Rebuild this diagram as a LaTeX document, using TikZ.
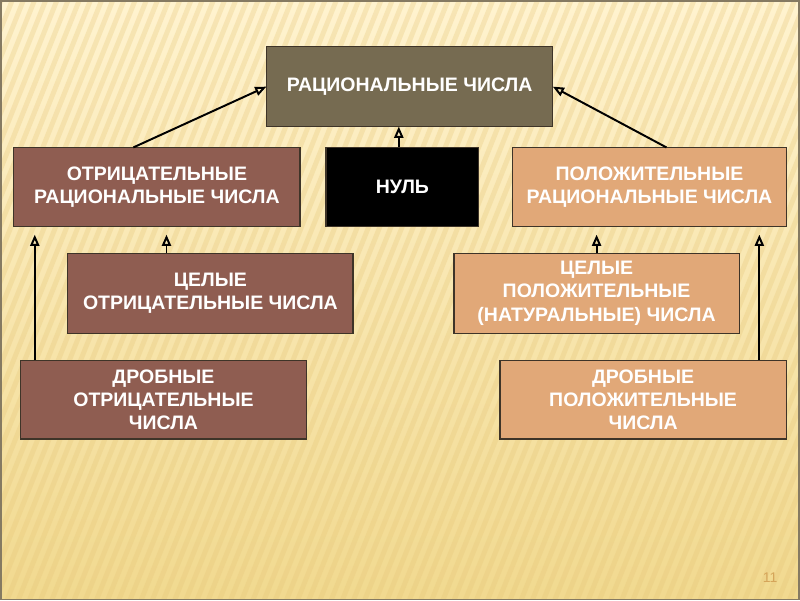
\documentclass[tikz,border=0pt]{standalone}
\usepackage{fontspec}
\setmainfont{Liberation Sans}
\usetikzlibrary{arrows.meta,fadings}
\definecolor{bgtop}{HTML}{FFF3CF}
\definecolor{bgbot}{HTML}{F1D98F}
\definecolor{stripe}{HTML}{E6C678}
\definecolor{slideedge}{HTML}{857A62}
\definecolor{ratfill}{HTML}{766B51}
\definecolor{negfill}{HTML}{8F5D51}
\definecolor{posfill}{HTML}{E1A878}
\definecolor{boxedge}{HTML}{3E3428}
\definecolor{pagenum}{HTML}{D5A55A}

\begin{document}
\begin{tikzpicture}[
    ->, >={Triangle[open,length=8pt,width=6.5pt]}, line width=1.4pt,
    box/.style={draw=boxedge, line width=0.9pt, text=white,
      font=\bfseries\fontsize{13.9}{16.5}\selectfont, align=center,
      inner sep=0pt, outer sep=0pt, minimum height=2cm},
    ratbox/.style={box, fill=ratfill},
    negbox/.style={box, fill=negfill},
    posbox/.style={box, fill=posfill},
    zerobox/.style={box, fill=black},
    lower/.style={shorten >=6pt}]
    \fill[top color=bgtop, bottom color=bgbot] (0, 0) rectangle (20, 15);
    \begin{scope}[-, line width=3.5pt, color=stripe, opacity=0.3,
        scope fading=north, fit fading=false]
      \clip (0, 0) rectangle (20, 15);
      \foreach \s in {0,0.28,...,28}
        \draw (\s, 15) -- (\s - 6, 0);
    \end{scope}
    \draw[-, slideedge, line width=1.2pt] (0, 0) rectangle (20, 15);
    \node[ratbox, minimum width=7.175cm] at (10.24, 12.85) (rat)
      {РАЦИОНАЛЬНЫЕ ЧИСЛА};
    \node[negbox, minimum width=7.175cm, minimum height=1.975cm] at (3.91, 10.34) (lneg)
      {ОТРИЦАТЕЛЬНЫЕ\\РАЦИОНАЛЬНЫЕ ЧИСЛА};
    \node[zerobox, minimum width=3.825cm, minimum height=1.975cm] at (10.06, 10.34) (zero)
      {НУЛЬ};
    \node[posbox, minimum width=6.85cm, minimum height=1.975cm] at (16.25, 10.34) (rpos)
      {ПОЛОЖИТЕЛЬНЫЕ\\РАЦИОНАЛЬНЫЕ ЧИСЛА};
    \node[negbox, minimum width=7.15cm] at (5.25, 7.675) (lint)
      {ЦЕЛЫЕ\\ОТРИЦАТЕЛЬНЫЕ ЧИСЛА};
    \node[posbox, minimum width=7.15cm] at (14.925, 7.675) (rint)
      {ЦЕЛЫЕ\\ПОЛОЖИТЕЛЬНЫЕ\\(НАТУРАЛЬНЫЕ) ЧИСЛА};
    \node[negbox, minimum width=7.15cm, minimum height=1.975cm] at (4.075, 5.01) (lfrac)
      {ДРОБНЫЕ\\ОТРИЦАТЕЛЬНЫЕ\\ЧИСЛА};
    \node[posbox, minimum width=7.175cm, minimum height=1.975cm] at (16.09, 5.01) (rfrac)
      {ДРОБНЫЕ\\ПОЛОЖИТЕЛЬНЫЕ\\ЧИСЛА};
    \node[text=pagenum, font=\fontsize{10}{12}\selectfont] at (19.275, 0.55) (num)
      {11};
    \path
      ([xshift=-0.59cm]lneg.north) edge (rat.west)
      ([xshift=0.425cm]rpos.north) edge (rat.east)
      ([xshift=-0.09cm]zero.north) edge ([xshift=-0.09cm]zero.north |- rat.south);
    \path
      ([xshift=0.35cm]lfrac.north west) edge [lower]
        ([xshift=0.35cm]lfrac.north west |- lneg.south)
      ([xshift=-1.1cm]lint.north) edge [lower]
        ([xshift=-1.1cm]lint.north |- lneg.south)
      (rint.north) edge [lower] (rint.north |- rpos.south)
      ([xshift=-0.675cm]rfrac.north east) edge [lower]
        ([xshift=-0.675cm]rfrac.north east |- rpos.south);
  \end{tikzpicture}
\end{document}
